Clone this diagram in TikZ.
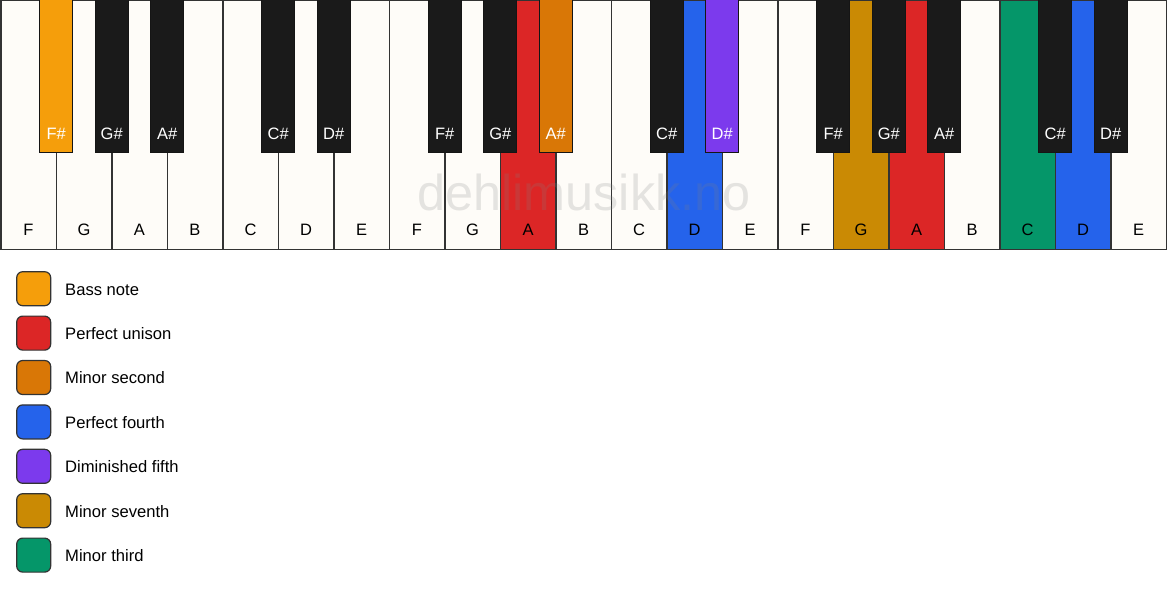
\documentclass[tikz,border=0pt]{standalone}
\usepackage{fontspec}
\setmainfont{Liberation Sans}
\definecolor{bass}{HTML}{F59E0B}
\definecolor{unison}{HTML}{DC2626}
\definecolor{minsec}{HTML}{D97706}
\definecolor{pfourth}{HTML}{2563EB}
\definecolor{dimfifth}{HTML}{7C3AED}
\definecolor{minsev}{HTML}{CA8A04}
\definecolor{minthird}{HTML}{059669}
\definecolor{wkey}{HTML}{FEFCF8}
\definecolor{bkey}{HTML}{1A1A1A}
\definecolor{keyline}{HTML}{333333}
\tikzset{
  whitekey/.style={draw=keyline, line width=1.5pt},
  blackkey/.style={draw=bkey!80!black, line width=1pt},
  wlabel/.style={anchor=base, inner sep=0pt, text=black, font=\fontsize{16.5}{19}\selectfont},
  blabel/.style={anchor=base, inner sep=0pt, text=white, font=\fontsize{16.5}{19}\selectfont},
  legbox/.style={draw=keyline, line width=1.2pt, rounded corners=6pt, minimum width=34pt, minimum height=34pt, inner sep=0pt},
  legtext/.style={anchor=base west, inner sep=0pt, text=black, font=\fontsize{16.6}{19}\selectfont},
  watermark/.style={anchor=base, inner sep=0pt, text=gray, opacity=0.2, font=\fontsize{50.4}{60}\selectfont}
}
\begin{document}
\begin{tikzpicture}[x=1pt,y=-1pt]
\useasboundingbox (0,0) rectangle (1167,594);
\fill[white] (0,0) rectangle (1167,594);
% white keys
\foreach \i/\n/\c in {0/F/wkey,1/G/wkey,2/A/wkey,3/B/wkey,4/C/wkey,5/D/wkey,6/E/wkey,
  7/F/wkey,8/G/wkey,9/A/unison,10/B/wkey,11/C/wkey,12/D/pfourth,13/E/wkey,
  14/F/wkey,15/G/minsev,16/A/unison,17/B/wkey,18/C/minthird,19/D/pfourth,20/E/wkey}{
  \draw[whitekey, fill=\c] ({0.75+\i*55.5},0.75) rectangle ++(55.5,248.5);
  \node[wlabel] (w\i) at ({0.75+(\i+0.5)*55.5},235.7) {\n};
}
% black keys
\foreach \b/\n/\c in {1/F/bass,2/G/bkey,3/A/bkey,5/C/bkey,6/D/bkey,
  8/F/bkey,9/G/bkey,10/A/minsec,12/C/bkey,13/D/dimfifth,
  15/F/bkey,16/G/bkey,17/A/bkey,19/C/bkey,20/D/bkey}{
  \draw[blackkey, fill=\c] ({0.75+\b*55.5-16.7},0) rectangle ++(33.4,152.7);
  \node[blabel] (b\b) at ({0.75+\b*55.5},139.3) {\n\#};
}
% watermark
\node[watermark] (wm) at (584,210) {dehlimusikk.no};
% legend
\foreach \k/\c/\t in {0/bass/Bass note,1/unison/Perfect unison,2/minsec/Minor second,
  3/pfourth/Perfect fourth,4/dimfifth/Diminished fifth,5/minsev/Minor seventh,6/minthird/Minor third}{
  \node[legbox, fill=\c] (lb\k) at (33.7,{288.7+\k*44.4}) {};
  \node[legtext] (lt\k) at (65,{295+\k*44.4}) {\t};
}
\end{tikzpicture}
\end{document}
